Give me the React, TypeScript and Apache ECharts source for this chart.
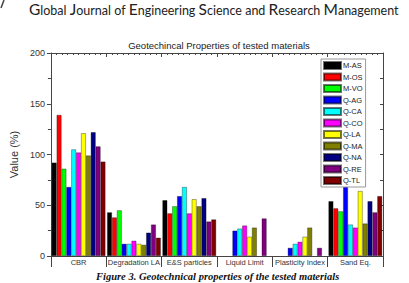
import React, { useEffect, useRef } from "react";
import * as echarts from "echarts";

const categories = ["CBR", "Degradation LA", "E&S particles", "Liquid Limit", "Plasticity Index", "Sand Eq."];
const materials = ["M-AS", "M-OS", "M-VO", "Q-AG", "Q-CA", "Q-CO", "Q-LA", "Q-MA", "Q-NA", "Q-RE", "Q-TL"];
const colors = ["#000000", "#ff0000", "#00ff00", "#0000ff", "#00ffff", "#ff00ff", "#ffff00", "#808000", "#000080", "#800080", "#800000"];

const vMAS = [92, 43, 55, null, null, 54];
const vMOS = [139, 38, 42, null, null, 47];
const vMVO = [86, 45, 49, null, null, 44];
const vQAG = [68, 12, 59, 25, 8, 70];
const vQCA = [105, 12, 68, 27, 12, 31];
const vQCO = [102, 15, 42, 30, 14, 28];
const vQLA = [121, 12, 56, 19, 19, 64];
const vQMA = [99, 11, 49, 28, 28, 32];
const vQNA = [122, 23, 57, null, null, 54];
const vQRE = [108, 31, 34, 37, 8, 43];
const vQTL = [93, 18, 36, null, null, 59];
const seriesValues = [vMAS, vMOS, vMVO, vQAG, vQCA, vQCO, vQLA, vQMA, vQNA, vQRE, vQTL];

const yTicksMax = 200;
const yInterval = 50;

export default function App() {
  const ref = useRef<HTMLDivElement>(null);
  useEffect(() => {
    document.body.style.margin = "0";
    const chart = echarts.init(ref.current!, null, { renderer: "svg" });
    const axisColor = "#444";
    chart.setOption({
      animation: false,
      backgroundColor: "#ffffff",
      title: {
        text: "Geotechincal Properties of tested materials",
        left: 214,
        textAlign: "center",
        top: 35,
        textStyle: { fontSize: 9.5, fontWeight: "normal", color: "#222", fontFamily: "Liberation Sans, Arial" },
      },
      graphic: [
        {
          type: "text",
          left: 29,
          top: 1,
          style: {
            text: "{c|G}{s|lobal }{c|J}{s|ournal of }{c|E}{s|ngineering }{c|S}{s|cience and }{c|R}{s|esearch }{c|M}{s|anagement}",
            rich: {
              c: { fontSize: 15.5, fontFamily: "Lato", fill: "#222", verticalAlign: "bottom", lineHeight: 16 },
              s: { fontSize: 12.5, fontFamily: "Lato", fill: "#222", verticalAlign: "bottom", lineHeight: 16 },
            },
          },
        },
        {
          type: "line",
          shape: { x1: 4, y1: 0, x2: 1, y2: 8 },
          style: { stroke: "#444", lineWidth: 1.5 },
        },
        {
          type: "text",
          left: 96,
          top: 271,
          style: {
            text: "Figure 3. Geotechnical properties of the tested materials",
            fontSize: 10.5,
            fontStyle: "italic",
            fontWeight: "bold",
            fontFamily: "Liberation Serif, Times New Roman",
            fill: "#111",
          },
        },
      ],
      legend: {
        data: materials,
        orient: "vertical",
        left: 321,
        top: 59,
        itemWidth: 17,
        itemHeight: 7,
        itemGap: 2.5,
        padding: [2, 3, 2, 2],
        borderColor: "#999",
        borderWidth: 1,
        backgroundColor: "#fff",
        icon: "rect",
        textStyle: { fontSize: 7.5, color: "#222", fontFamily: "Liberation Sans, Arial", padding: [0, 0, 0, -3] },
      },
      grid: { left: 43, right: 26, top: 53, bottom: 27, containLabel: false },
      xAxis: [
        {
          type: "category",
          data: categories,
          position: "bottom",
          axisLine: { show: true, lineStyle: { color: axisColor, width: 1 } },
          axisTick: { show: true, length: 11, inside: false, lineStyle: { color: axisColor } },
          axisLabel: { interval: 0, margin: 2, fontSize: 7.5, color: "#333", fontFamily: "Liberation Sans, Arial" },
        },
        {
          type: "category",
          data: categories,
          position: "bottom",
          offset: 11,
          axisLine: { show: true, lineStyle: { color: axisColor, width: 1 } },
          axisTick: { show: false },
          axisLabel: { show: false },
        },
        {
          type: "value",
          position: "top",
          min: 0,
          max: 6,
          interval: 1,
          axisLine: { show: true, lineStyle: { color: axisColor, width: 1 } },
          axisTick: { show: true, inside: true, length: 4, lineStyle: { color: axisColor } },
          minorTick: { show: true, splitNumber: 10, length: 2, lineStyle: { color: axisColor } },
          axisLabel: { show: false },
          splitLine: { show: false },
        },
      ],
      yAxis: [
        {
          type: "value",
          min: 0,
          max: yTicksMax,
          interval: yInterval,
          position: "left",
          name: "Value (%)",
          nameLocation: "middle",
          nameGap: 23,
          nameTextStyle: { fontSize: 11, color: "#333", fontFamily: "Liberation Sans, Arial" },
          axisLine: { show: true, lineStyle: { color: axisColor, width: 1 } },
          axisTick: { show: true, inside: false, length: 4, lineStyle: { color: axisColor } },
          minorTick: { show: true, splitNumber: 2, length: 3, lineStyle: { color: axisColor } },
          axisLabel: { margin: 6, fontSize: 9, color: "#333", fontFamily: "Liberation Sans, Arial" },
          splitLine: { show: false },
        },
        {
          type: "value",
          min: 0,
          max: yTicksMax,
          interval: yInterval,
          position: "right",
          axisLine: { show: true, lineStyle: { color: axisColor, width: 1 } },
          axisTick: { show: true, inside: true, length: 3, lineStyle: { color: axisColor } },
          minorTick: { show: true, splitNumber: 2, length: 3, lineStyle: { color: axisColor } },
          axisLabel: { show: false },
          splitLine: { show: false },
        },
      ],
      series: materials.map((m, i) => ({
        name: m,
        type: "bar",
        xAxisIndex: 0,
        yAxisIndex: 0,
        data: seriesValues[i],
        barGap: "0%",
        barCategoryGap: "3%",
        itemStyle: { color: colors[i], borderColor: "rgba(0,0,0,0.55)", borderWidth: 0.6 },
      })),
    });
    return () => chart.dispose();
  }, []);
  return <div ref={ref} style={{ position: "fixed", left: 0, top: 0, width: 409, height: 283 }} />;
}
